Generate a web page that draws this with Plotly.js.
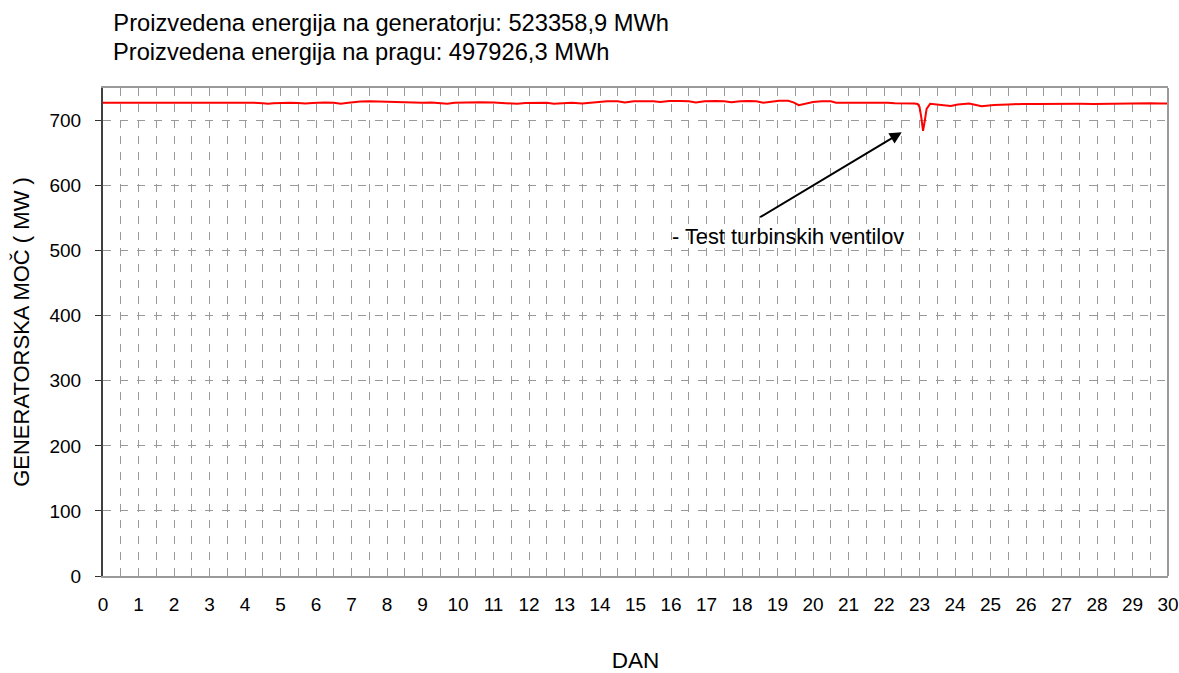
<!DOCTYPE html>
<html>
<head>
<meta charset="utf-8">
<script src="https://cdn.plot.ly/plotly-3.0.1.min.js"></script>
<style>html,body{margin:0;padding:0;background:#fff;}#chart{width:1179px;height:673px;}</style>
</head>
<body>
<div id="chart"></div>
<script>
// Day of month (x) and generator power in MW (y)
const days = [
  0, 0.25, 0.5, 0.75, 1, 1.25, 1.5, 1.75, 2, 2.25, 2.5, 2.75, 3, 3.25, 3.5, 3.75,
  4, 4.25, 4.5, 4.65, 4.8, 5, 5.25, 5.5, 5.7, 5.9, 6, 6.25, 6.5, 6.7, 6.85, 7,
  7.25, 7.5, 7.75, 8, 8.25, 8.5, 8.75, 9, 9.25, 9.5, 9.7, 9.9, 10.2, 10.6, 11,
  11.3, 11.67, 11.9, 12.2, 12.5, 12.7, 12.9, 13.2, 13.5, 13.75, 14, 14.2, 14.5,
  14.7, 14.95, 15.2, 15.5, 15.7, 15.95, 16.25, 16.5, 16.7, 16.95, 17.25, 17.5,
  17.7, 17.95, 18.2, 18.4, 18.6, 18.85, 19.05, 19.3, 19.45, 19.6, 19.75, 20,
  20.25, 20.5, 20.65, 20.9, 21.1, 21.3, 21.6, 21.9, 22.1, 22.3, 22.6, 22.85,
  22.95, 23.0, 23.05, 23.1, 23.15, 23.2, 23.3, 23.6, 23.88, 24.08, 24.4, 24.75,
  25.1, 25.5, 25.9, 26.3, 26.7, 27.1, 27.5, 27.9, 28.3, 28.7, 29.1, 29.5, 29.8, 30
];
const powerMW = [
  727.5, 727.5, 727.8, 727.5, 727.6, 727.4, 727.8, 727.5, 727.3, 727.6, 727.8, 727.4, 727.5, 727.7, 727.3, 727.4,
  727.2, 727.2, 726.6, 725.9, 726.5, 727.3, 727.5, 727.0, 726.0, 726.8, 727.3, 727.6, 727.2, 725.9, 726.8, 727.8,
  729.2, 729.5, 729.0, 729.3, 728.6, 728.2, 727.8, 727.4, 727.6, 727.0, 725.8, 727.2, 728.0, 728.0, 727.6,
  727.2, 725.8, 727.0, 727.6, 727.2, 725.9, 727.0, 727.5, 726.0, 727.4, 728.2, 729.7, 729.6,
  727.8, 729.7, 730.0, 729.8, 728.5, 730.0, 730.0, 729.6, 727.6, 729.8, 730.0, 729.8,
  728.0, 729.8, 729.9, 729.5, 727.5, 729.6, 730.5, 730.5, 728.0, 723.7, 725.5, 728.5,
  729.5, 729.5, 727.5, 727.6, 727.4, 728.0, 727.5, 728.1, 727.5, 726.5, 726.6, 726.3,
  725.5, 721.0, 705.0, 684.0, 700.0, 718.0, 725.8, 724.6, 722.5, 724.6, 726.0, 722.0,
  723.8, 724.6, 725.6, 725.4, 725.8, 725.5, 725.9, 725.6, 726.0, 725.8, 726.2, 726.5, 726.0, 726.1
];
const titleLines = [
  "Proizvedena energija na generatorju: 523358,9 MWh",
  "Proizvedena energija na pragu: 497926,3 MWh"
];
const noteText = "- Test turbinskih ventilov";
const noteHead = {day: 22.5, mw: 682};
const noteTail = {day: 18.47, mw: 550};
const noteAt = {day: 15.98, mw: 522};
const xTicks = Array.from({length: 31}, (_, i) => i);
const yTicks = [0, 100, 200, 300, 400, 500, 600, 700];

const FONT = "Liberation Sans, Arial, sans-serif";

const trace = {
  x: days, y: powerMW, type: "scatter", mode: "lines",
  line: {color: "#ff0000", width: 2}, hoverinfo: "x+y"
};

const layout = {
  width: 1179, height: 673,
  paper_bgcolor: "#ffffff", plot_bgcolor: "#ffffff",
  margin: {l: 103, r: 11, t: 88, b: 97, pad: 0},
  showlegend: false,
  font: {family: FONT, size: 19, color: "#000"},
  title: {
    text: titleLines[0], font: {family: FONT, size: 23.7, color: "#000"},
    xref: "paper", x: 0.0097, xanchor: "left",
    yref: "container", y: 1 - 23/673, yanchor: "middle"
  },
  xaxis: {
    range: [0, 30], tickvals: xTicks, ticktext: xTicks.map(String),
    ticks: "", ticklabelstandoff: 10,
    showgrid: true, gridcolor: "#9a9a9a", gridwidth: 1, griddash: "8px,8px",
    minor: {dtick: 0.5, tick0: 0, showgrid: true, gridcolor: "#9a9a9a", gridwidth: 1, griddash: "8px,8px"},
    showline: true, linecolor: "#9a9a9a", linewidth: 2, mirror: true,
    zeroline: false, tickfont: {family: FONT, size: 19, color: "#000"},
    title: {text: "DAN", font: {family: FONT, size: 22.5, color: "#000"}, standoff: 46},
    automargin: false
  },
  yaxis: {
    range: [0, 750], tickvals: yTicks, ticktext: yTicks.map(String),
    ticks: "outside", ticklen: 6, tickwidth: 1, tickcolor: "#333",
    ticklabelstandoff: 10,
    showgrid: true, gridcolor: "#9a9a9a", gridwidth: 1, griddash: "8px,9px",
    showline: true, linecolor: "#404040", linewidth: 2, mirror: false,
    zeroline: false, tickfont: {family: FONT, size: 19, color: "#000"},
    title: {text: "GENERATORSKA MOČ ( MW )", font: {family: FONT, size: 22, color: "#000"}, standoff: 14},
    automargin: false
  },
  shapes: [
    {type: "line", xref: "paper", yref: "paper", x0: 1, x1: 1, y0: 0, y1: 1,
     line: {color: "#9a9a9a", width: 2}}
  ],
  annotations: [
    {text: titleLines[1], xref: "paper", yref: "paper", x: 0.0078, y: (576 - 52) / 488,
     xanchor: "left", yanchor: "middle", showarrow: false,
     font: {family: FONT, size: 23.7, color: "#000"}},
    {text: "", x: noteHead.day, y: noteHead.mw, xref: "x", yref: "y",
     ax: noteTail.day, ay: noteTail.mw, axref: "x", ayref: "y",
     showarrow: true, arrowhead: 2, arrowsize: 1.2, arrowwidth: 2, arrowcolor: "#000", standoff: 0},
    {text: noteText, x: noteAt.day, y: noteAt.mw, xref: "x", yref: "y",
     xanchor: "left", yanchor: "middle", showarrow: false,
     font: {family: FONT, size: 21.8, color: "#000"}}
  ]
};

Plotly.newPlot("chart", [trace], layout, {displayModeBar: false, staticPlot: true});
</script>
</body>
</html>
